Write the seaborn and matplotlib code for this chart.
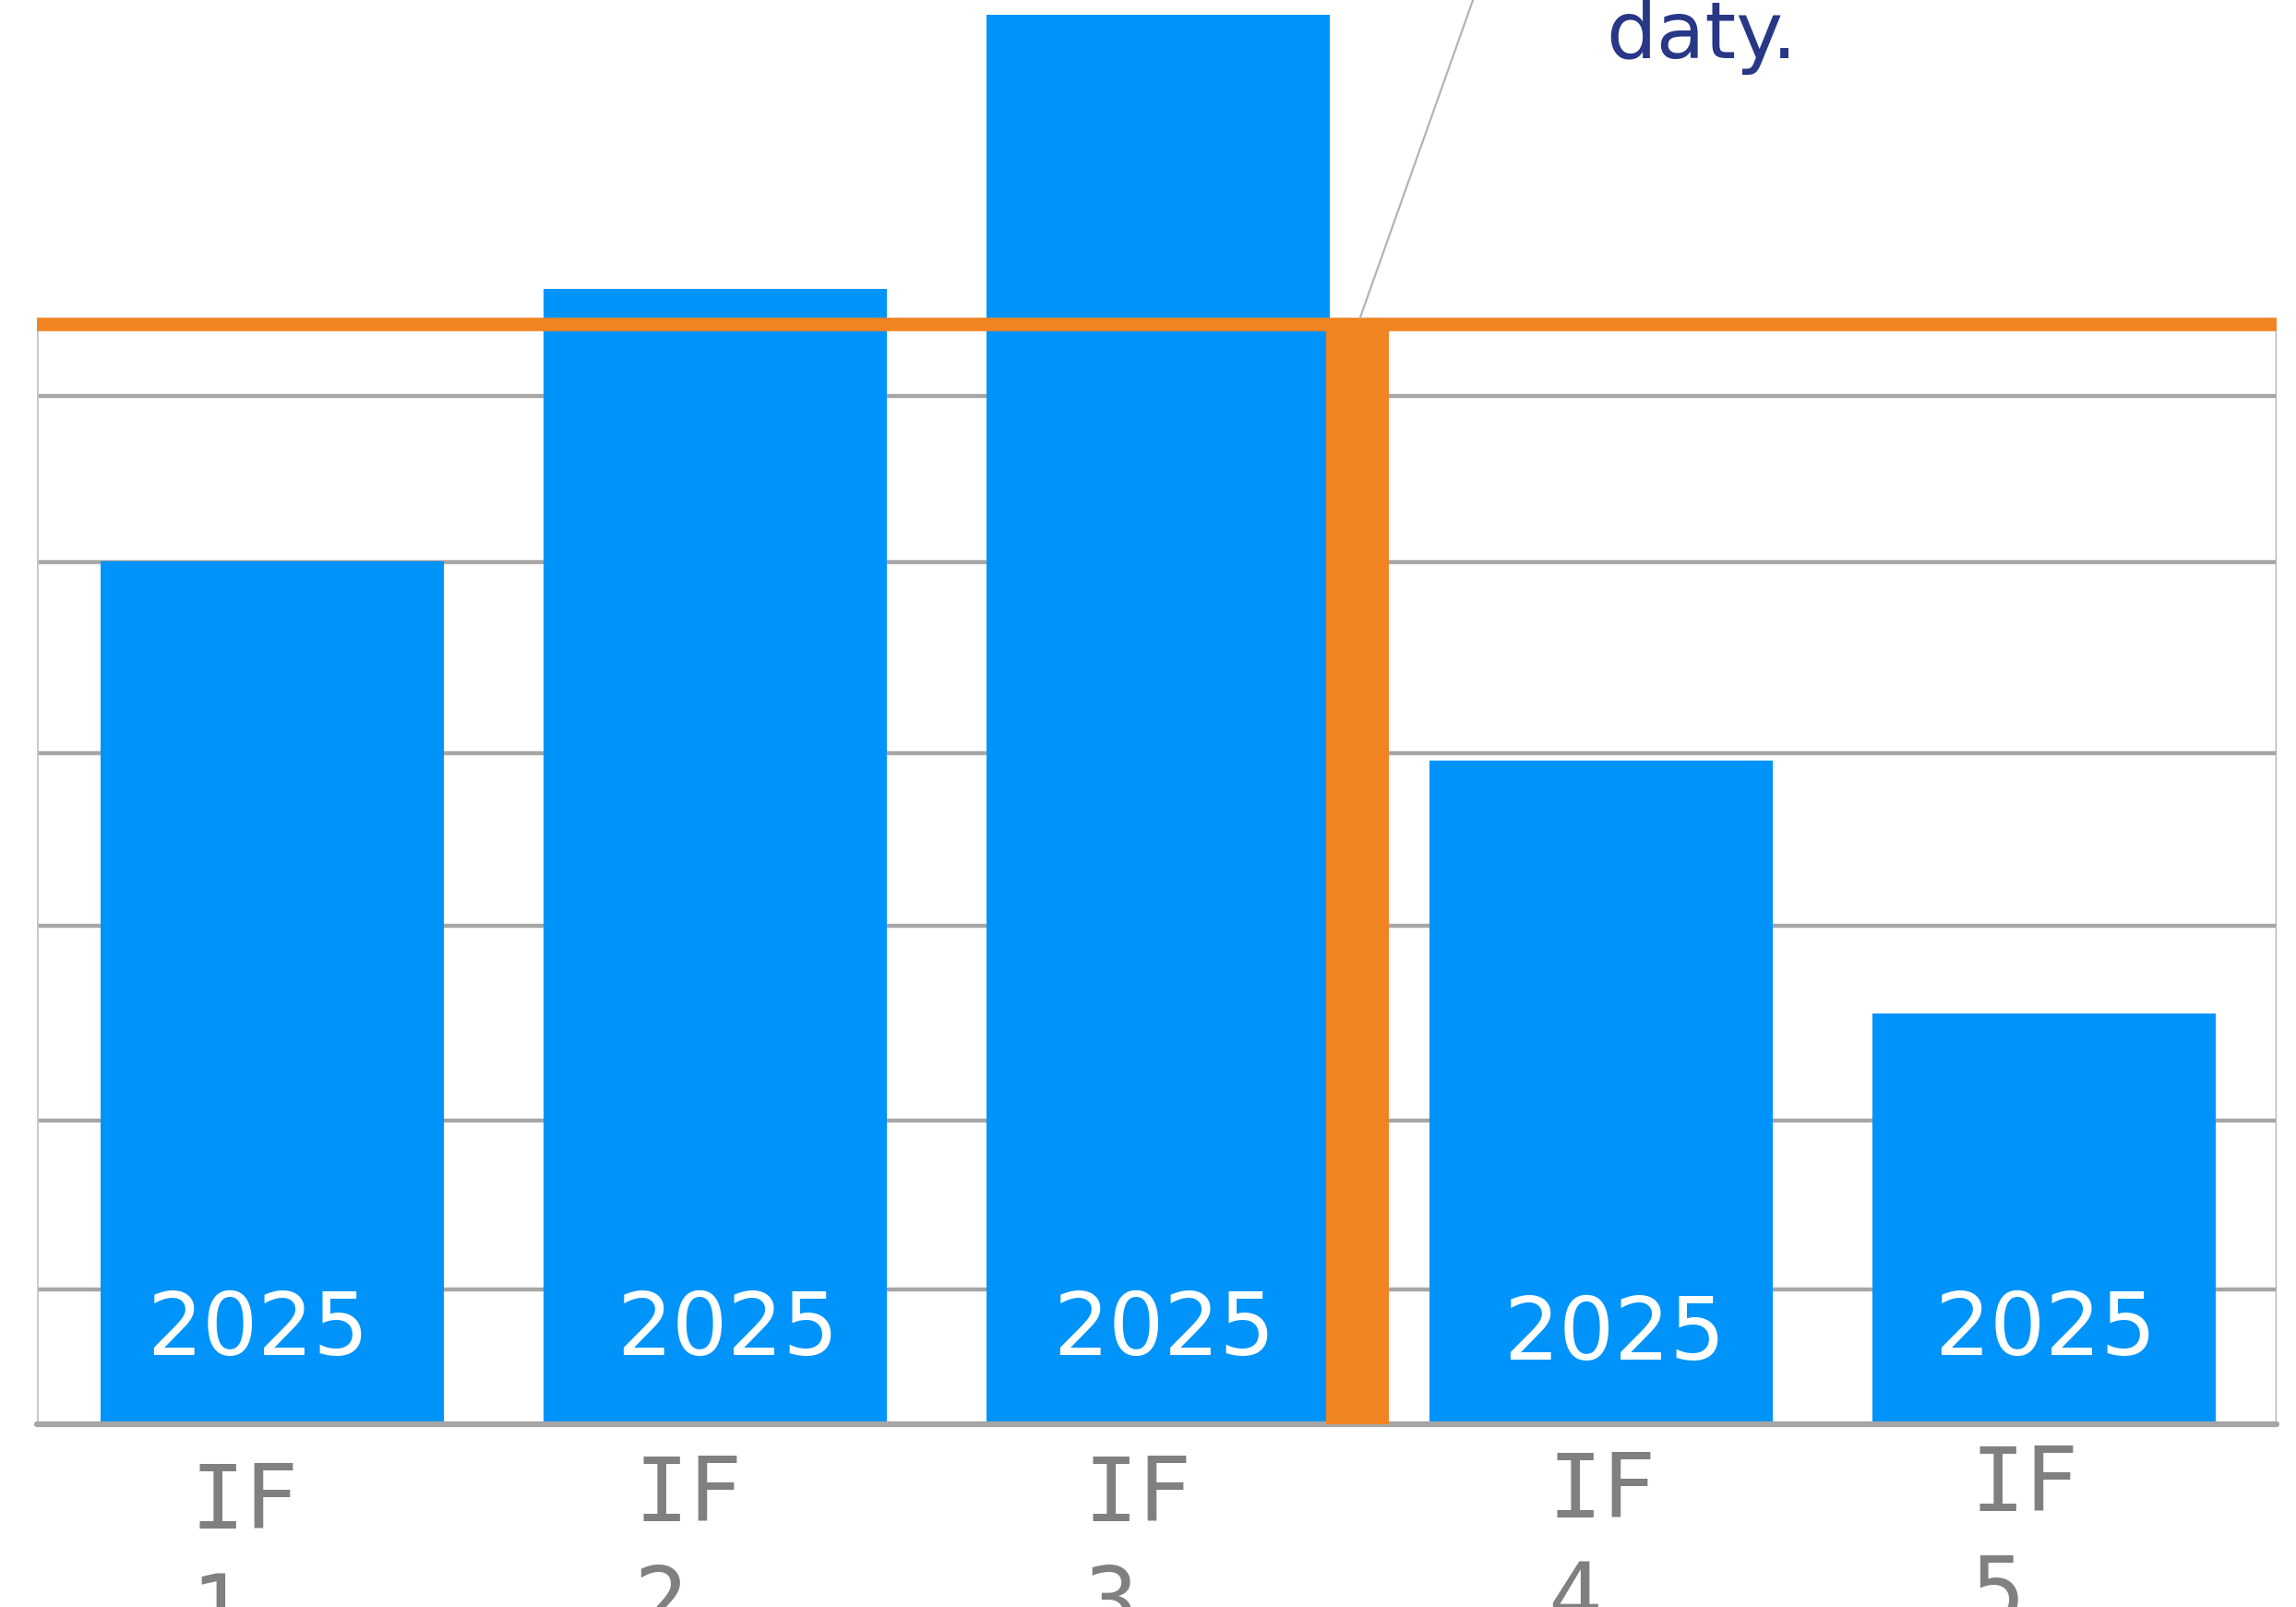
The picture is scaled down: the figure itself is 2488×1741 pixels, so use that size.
import numpy as np
import matplotlib
matplotlib.use("Agg")
import matplotlib.pyplot as plt
import seaborn as sns

# données (unités arbitraires, axe du bas = 0)
categories = ["IF 1", "IF 2", "IF 3", "IF 4", "IF 5"]
valeurs = [5.89, 7.75, 9.62, 4.53, 2.80]
etiquettes_barres = ["2025", "2025", "2025", "2025", "2025"]
etiquettes_x = ["IF\n1", "IF\n2", "IF\n3", "IF\n4", "IF\n5"]
lignes_grille = [0.92, 2.07, 3.40, 4.58, 5.88, 7.02]
seuil = 7.51
note = "daty."

BLEU = "#0094FA"
ORANGE = "#F08422"
GRIS = "#A6A6A6"

sns.set_theme(style="white")
plt.rcParams["font.family"] = ["DejaVu Sans"]

fig = plt.figure(figsize=(24.88, 17.41), dpi=100)
ax = fig.add_axes([0.0159, 0.1139, 0.9758, 0.8861])

sns.barplot(x=categories, y=valeurs, color=BLEU, saturation=1, width=0.774,
            ax=ax, zorder=2)
for p in ax.patches:
    p.set_clip_on(False)
    p.set_edgecolor("none")
    p.set_linewidth(0)

ax.set_xlim(-0.532, 4.526)
ax.set_ylim(0, 9.72)

# grille horizontale
for g in lignes_grille:
    ax.axhline(g, color=GRIS, lw=3.2, zorder=1)
ax.axhline(0, color=GRIS, lw=4.5, zorder=3, clip_on=False)

# bordures gauche / droite
ax.vlines([-0.532], 0, seuil, color="#C8C8C8", lw=2, zorder=1)
ax.vlines([4.526], 0, seuil, color="#B0B0B0", lw=2.5, zorder=1)

# ligne seuil orange + barre verticale
ax.axhline(seuil, color=ORANGE, lw=10.5, zorder=4)
ax.bar([2.451], [seuil], width=0.142, color=ORANGE, edgecolor="none",
       linewidth=0, zorder=4)

# trait de rappel + texte
ax.plot([2.456, 2.711], [seuil + 0.04, 9.72], color="#B4B4B4", lw=1.6,
        zorder=5, clip_on=False)
ax.text(3.012, 9.32, note, color="#283786", fontsize=62, ha="left",
        va="baseline", zorder=6)

# étiquettes dans les barres
dx_barres = [-0.033, 0.028, 0.013, 0.031, 0.003]
dy_barres = [0.47, 0.47, 0.47, 0.44, 0.47]
for i, t in enumerate(etiquettes_barres):
    ax.text(i + dx_barres[i], dy_barres[i], t, color="white", fontsize=68,
            ha="center", va="baseline", zorder=6)

# étiquettes de l'axe x (alignées à gauche, deux lignes)
ax.set_xticks([])
ax.set_yticks([])
x_lab = [-0.185, 0.817, 1.832, 2.880, 3.835]
y_lab = [-0.249, -0.199, -0.199, -0.169, -0.129]
for i, t in enumerate(etiquettes_x):
    ax.text(x_lab[i], y_lab[i], t, color="#808080", fontsize=70,
            family="DejaVu Sans Mono", ha="left", va="top",
            multialignment="left", linespacing=1.33, clip_on=False)

sns.despine(ax=ax, left=True, bottom=True)
ax.set_xlabel("")
ax.set_ylabel("")

fig.savefig("out.png", dpi=100)
